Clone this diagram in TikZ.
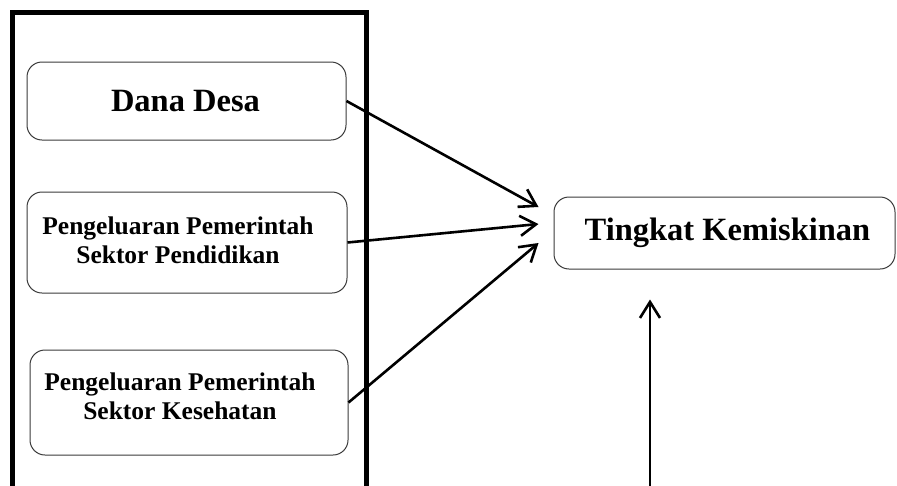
\documentclass[tikz,border=0pt]{standalone}
\usepackage{fontspec}
\setmainfont{Liberation Serif}
\usepackage{xcolor}
\usepackage{tikz}
\usetikzlibrary{arrows.meta}
\definecolor{boxline}{HTML}{3A3A3A}
\tikzset{
  frame/.style={draw=black, line width=5pt, line join=miter},
  varbox/.style={draw=boxline, line width=1pt, rounded corners=15pt, inner sep=0pt},
  vartext/.style={align=center, inner sep=0pt, font=\bfseries\fontsize{25.5}{29}\selectfont},
  bigtext/.style={align=center, inner sep=0pt, font=\bfseries\fontsize{32.5}{36}\selectfont},
  link/.style={draw=black, line width=2.6pt, -{Straight Barb[length=16pt,width=20pt,line width=2.6pt]}},
}

\begin{document}
\begin{tikzpicture}[x=1pt, y=-1pt]

  \useasboundingbox (0,0) rectangle (897,485);
  \clip (0,0) rectangle (897,485);

  % left frame, open at the bottom
  \draw[frame] (12,495) -- (12,12) -- (366,12) -- (366,495);

  \node[varbox, minimum width=319pt, minimum height=78pt] (dana) at (186.5,101) {};
  \node[bigtext] (dana-t) at ([xshift=-1pt]dana) {Dana Desa};

  \node[varbox, minimum width=320pt, minimum height=101pt] (didik) at (187,242.5) {};
  \node[vartext] (didik-t) at ([xshift=-9pt, yshift=2pt]didik)
      {Pengeluaran Pemerintah\\Sektor Pendidikan};

  \node[varbox, minimum width=318pt, minimum height=105pt] (sehat) at (189,402.5) {};
  \node[vartext] (sehat-t) at ([xshift=-9pt, yshift=6pt]sehat)
      {Pengeluaran Pemerintah\\Sektor Kesehatan};

  \node[varbox, minimum width=341pt, minimum height=72pt] (miskin) at (724.5,233) {};
  \node[bigtext] (miskin-t) at ([xshift=3pt]miskin) {Tingkat Kemiskinan};

  \coordinate (in1) at ([xshift=-15pt, yshift=26pt]miskin.west);
  \coordinate (in2) at ([xshift=-15pt, yshift=9pt]miskin.west);
  \coordinate (in3) at ([xshift=-15pt, yshift=-10pt]miskin.west);
  \coordinate (up) at ([xshift=-74.5pt, yshift=-30pt]miskin.south);
  \coordinate (base) at (650,495);

  \draw[link] (dana.east) -- (in1);
  \draw[link] (didik.east) -- (in2);
  \draw[link] (sehat.east) -- (in3);
  \draw[link] (base) -- (up);

\end{tikzpicture}
\end{document}
